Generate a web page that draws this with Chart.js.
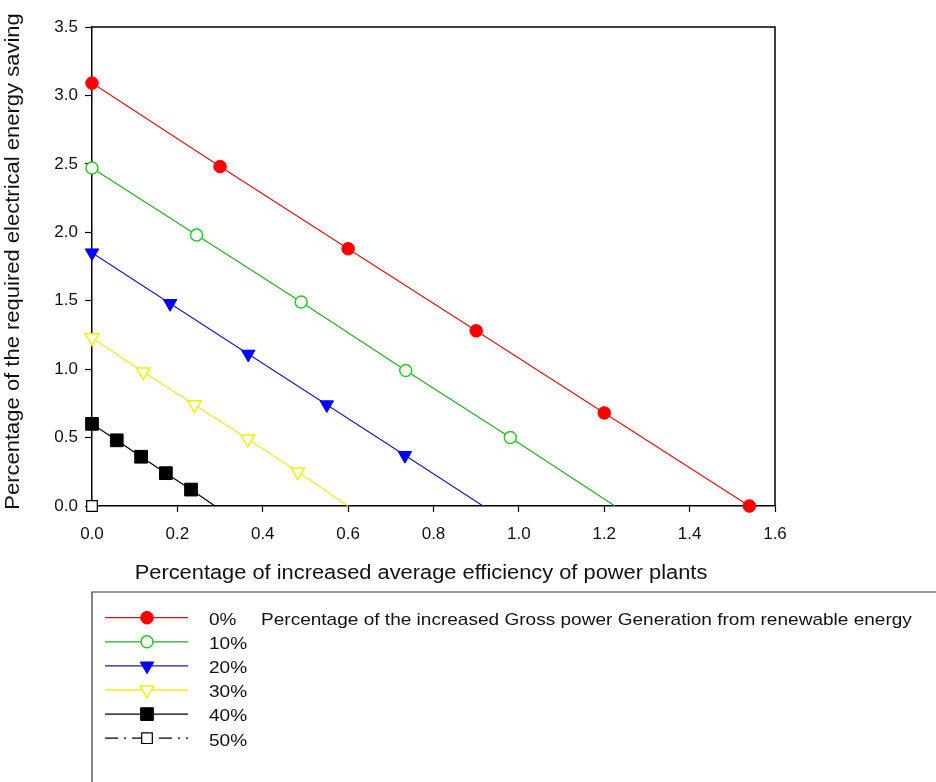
<!DOCTYPE html>
<html>
<head>
<meta charset="utf-8">
<script src="https://cdn.jsdelivr.net/npm/chart.js@4.4.1/dist/chart.umd.min.js"></script>
<style>
  html, body { margin: 0; padding: 0; background: #fff; }
  #wrap { width: 936px; height: 782px; position: relative; }
</style>
</head>
<body>
<div id="wrap"><canvas id="chart"></canvas></div>
<script>
// 再生可能エネルギー比率ごとの系列 (x: 効率向上率, y: 必要節電率)
const seriesLabels = ['0%', '10%', '20%', '30%', '40%', '50%'];

const x0 = [0, 0.30, 0.60, 0.90, 1.20, 1.54];
const y0 = [3.09, 2.48, 1.88, 1.28, 0.68, 0.0];

const x10 = [0, 0.245, 0.49, 0.735, 0.98, 1.225];
const y10 = [2.47, 1.98, 1.49, 0.99, 0.50, 0.0];

const x20 = [0, 0.183, 0.366, 0.55, 0.733, 0.916];
const y20 = [1.85, 1.48, 1.11, 0.74, 0.37, 0.0];

const x30 = [0, 0.12, 0.24, 0.365, 0.482, 0.60];
const y30 = [1.23, 0.98, 0.74, 0.49, 0.25, 0.0];

const x40 = [0, 0.058, 0.115, 0.173, 0.232, 0.288];
const y40 = [0.60, 0.48, 0.36, 0.24, 0.12, 0.0];

const x50 = [0];
const y50 = [0];

const xTitle = 'Percentage of increased average efficiency of power plants';
const yTitle = 'Percentage of the required electrical energy saving';
const legendTitle = 'Percentage of the increased Gross power Generation from renewable energy';

const FONT = '"Liberation Sans", Arial, sans-serif';
const STRETCH = 1.12; // 元画像の文字は横に少し広い

const toPoints = (xs, ys) => xs.map((x, i) => ({ x: x, y: ys[i] }));

// 最後の点は線の端のみ (赤以外はマーカーなし)
const lastHidden = (n, r) => Array.from({ length: n }, (_, i) => i === n - 1 ? 0 : r);

const datasets = [
    {
        label: seriesLabels[0], data: toPoints(x0, y0),
        borderColor: '#e01010', backgroundColor: '#ff0000', pointBackgroundColor: '#ff0000',
        pointBorderColor: '#ff0000', pointStyle: 'circle', pointRadius: 6.3, pointBorderWidth: 1
    },
    {
        label: seriesLabels[1], data: toPoints(x10, y10),
        borderColor: '#1fb01f', backgroundColor: '#ffffff', pointBackgroundColor: '#ffffff',
        pointBorderColor: '#22cc22', pointStyle: 'circle', pointRadius: lastHidden(6, 6), pointBorderWidth: 1.5
    },
    {
        label: seriesLabels[2], data: toPoints(x20, y20),
        borderColor: '#1a1ac0', backgroundColor: '#0000ff', pointBackgroundColor: '#0000ff',
        pointBorderColor: '#0000ff', pointStyle: 'triangle', pointRotation: 180, pointRadius: lastHidden(6, 7.8), pointBorderWidth: 1
    },
    {
        label: seriesLabels[3], data: toPoints(x30, y30),
        borderColor: '#eeee1a', backgroundColor: '#ffffff', pointBackgroundColor: '#ffffff',
        pointBorderColor: '#f2f200', pointStyle: 'triangle', pointRotation: 180, pointRadius: lastHidden(6, 7.8), pointBorderWidth: 1.5
    },
    {
        label: seriesLabels[4], data: toPoints(x40, y40),
        borderColor: '#000000', backgroundColor: '#000000', pointBackgroundColor: '#000000',
        pointBorderColor: '#000000', pointStyle: 'rect', pointRadius: lastHidden(6, 9), pointBorderWidth: 1
    },
    {
        label: seriesLabels[5], data: toPoints(x50, y50),
        borderColor: '#000000', backgroundColor: '#ffffff', pointBackgroundColor: '#ffffff',
        pointBorderColor: '#000000', pointStyle: 'rect', pointRadius: 7.5, pointBorderWidth: 1.2,
        borderDash: [13, 6, 2, 6]
    }
].map(d => Object.assign({ showLine: true, borderWidth: 1.2, tension: 0, clip: false }, d));

// 横に伸ばした文字を描く
function stretchedText(ctx, text, x, y, align, rotate, k) {
    ctx.save();
    ctx.translate(x, y);
    if (rotate) ctx.rotate(-Math.PI / 2);
    ctx.scale(k || STRETCH, 1);
    ctx.textAlign = align;
    ctx.textBaseline = 'alphabetic';
    ctx.fillText(text, 0, 0);
    ctx.restore();
}

// 軸タイトル・上と右の枠線・凡例 (枠付き、グラフ下部)
const framePlugin = {
    id: 'frame',
    afterDraw(chart) {
        const ctx = chart.ctx;
        const a = chart.chartArea;
        ctx.save();
        ctx.strokeStyle = '#000';
        ctx.lineWidth = 1.5;
        ctx.beginPath();
        ctx.moveTo(a.left, a.top);
        ctx.lineTo(a.right, a.top);
        ctx.lineTo(a.right, a.bottom);
        ctx.stroke();

        ctx.fillStyle = '#111';
        ctx.font = '19.5px ' + FONT;
        stretchedText(ctx, xTitle, 421, 578.5, 'center', false);
        ctx.font = '20px ' + FONT;
        stretchedText(ctx, yTitle, 19, 261.5, 'center', true, 1.1);

        // 凡例ボックス
        const boxTop = 592, boxLeft = 92;
        ctx.lineWidth = 1.2;
        ctx.strokeStyle = '#333';
        ctx.beginPath();
        ctx.moveTo(936, boxTop);
        ctx.lineTo(boxLeft, boxTop);
        ctx.lineTo(boxLeft, 782);
        ctx.stroke();

        ctx.font = '17px ' + FONT;
        chart.data.datasets.forEach((ds, i) => {
            const y = 617.7 + i * 24.1;
            ctx.save();
            ctx.strokeStyle = ds.borderColor;
            ctx.lineWidth = 1.3;
            ctx.setLineDash(ds.borderDash || []);
            ctx.beginPath();
            ctx.moveTo(105, y);
            ctx.lineTo(188, y);
            ctx.stroke();
            ctx.restore();

            const r = Array.isArray(ds.pointRadius) ? ds.pointRadius[0] : ds.pointRadius;
            ctx.fillStyle = ds.pointBackgroundColor;
            ctx.strokeStyle = ds.pointBorderColor;
            ctx.lineWidth = ds.pointBorderWidth;
            Chart.helpers.drawPoint(ctx, {
                pointStyle: ds.pointStyle,
                rotation: ds.pointRotation || 0,
                radius: r,
                borderWidth: ds.pointBorderWidth
            }, 147, y);

            ctx.fillStyle = '#111';
            stretchedText(ctx, ds.label, 209, y + 7.3, 'left', false);
        });
        stretchedText(ctx, legendTitle, 261, 625, 'left', false);
        ctx.restore();
    }
};

new Chart(document.getElementById('chart'), {
    type: 'scatter',
    data: { datasets: datasets },
    options: {
        responsive: true,
        maintainAspectRatio: false,
        animation: false,
        layout: { padding: { top: 27, right: 161, bottom: 192, left: 0 } },
        plugins: {
            legend: { display: false },
            tooltip: { enabled: false }
        },
        scales: {
            x: {
                type: 'linear',
                min: 0,
                max: 1.6,
                afterFit: s => { s.height = 84; },
                border: { color: '#000', width: 1.5 },
                grid: { drawOnChartArea: false, drawTicks: true, tickLength: 6, tickColor: '#000', tickWidth: 1.2 },
                ticks: {
                    stepSize: 0.2,
                    padding: 12,
                    color: '#111',
                    font: { family: FONT, size: 17 },
                    callback: v => v.toFixed(1)
                }
            },
            y: {
                type: 'linear',
                min: 0,
                max: 3.5,
                afterFit: s => { s.width = 92; },
                border: { color: '#000', width: 1.5 },
                grid: { drawOnChartArea: false, drawTicks: true, tickLength: 7, tickColor: '#000', tickWidth: 1.2 },
                ticks: {
                    stepSize: 0.5,
                    padding: 7,
                    color: '#111',
                    font: { family: FONT, size: 17 },
                    callback: v => v.toFixed(1)
                }
            }
        }
    },
    plugins: [framePlugin]
});
</script>
</body>
</html>
